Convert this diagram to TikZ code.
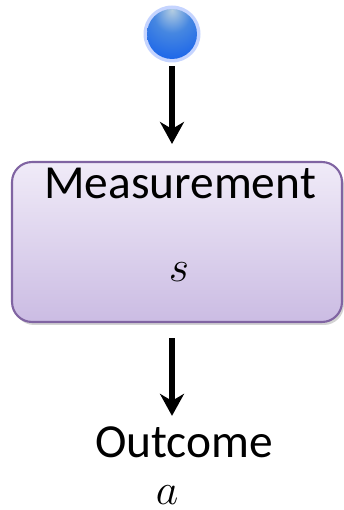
\documentclass[tikz,border=0pt]{standalone}
\usepackage{fontspec}
\setmainfont{Carlito}
\usetikzlibrary{arrows.meta,shadows}

\definecolor{boxtop}{RGB}{240,235,248}
\definecolor{boxbot}{RGB}{203,188,227}
\definecolor{boxline}{RGB}{128,100,162}
\definecolor{ballhi}{RGB}{180,205,225}
\definecolor{ballmid}{RGB}{70,135,225}
\definecolor{ballblue}{RGB}{20,95,235}
\definecolor{balldark}{RGB}{8,35,110}
\definecolor{ballglow}{RGB}{140,170,255}

\pgfdeclareradialshading{orb}{\pgfpoint{0bp}{24bp}}{%
  color(0bp)=(ballhi); color(18bp)=(ballmid); color(44bp)=(ballblue);
  color(60bp)=(ballblue!70!balldark); color(72bp)=(balldark); color(90bp)=(balldark)}

\tikzset{
  bigtext/.style={font=\fontsize{27}{32}\selectfont, inner sep=0pt},
  flow/.style={line width=3.1pt, -{Stealth[length=0.44cm,width=0.48cm,inset=0.14cm]}},
  measbox/.style={draw=boxline, line width=1.2pt, rounded corners=0.4cm,
    top color=boxtop, bottom color=boxbot,
    drop shadow={shadow xshift=0.04cm, shadow yshift=-0.06cm, opacity=0.35},
    minimum width=6.6cm, minimum height=3.2cm, inner sep=0pt}
}

\begin{document}
\begin{tikzpicture}[x=0.02cm,y=-0.02cm]
        \useasboundingbox (0,0) rectangle (344,510);
        % state
        \fill[ballglow, opacity=0.5] (172,34) circle (28.5);
        \node[circle, minimum size=1.0cm, inner sep=0pt, shading=orb] (ball) at (172,34) {};
        % box
        \node[measbox] (meas) at (177,242) {};
        \node[bigtext, anchor=base] (mtitle) at (180,198) {Measurement};
        \node[bigtext, anchor=base] (msym) at (179,281) {$s$};
        % result
        \node[bigtext, anchor=base] (outc) at (184,457) {Outcome};
        \node[bigtext, anchor=base] (osym) at (167,504) {$a$};
        % arrows
        \draw[flow, shorten <=0.14cm, shorten >=0.34cm] (ball.south) -- (ball.south |- meas.north);
        \draw[flow, shorten <=0.3cm, shorten >=0.2cm] (ball |- meas.south) -- (ball |- outc.north);
      \end{tikzpicture}
\end{document}
